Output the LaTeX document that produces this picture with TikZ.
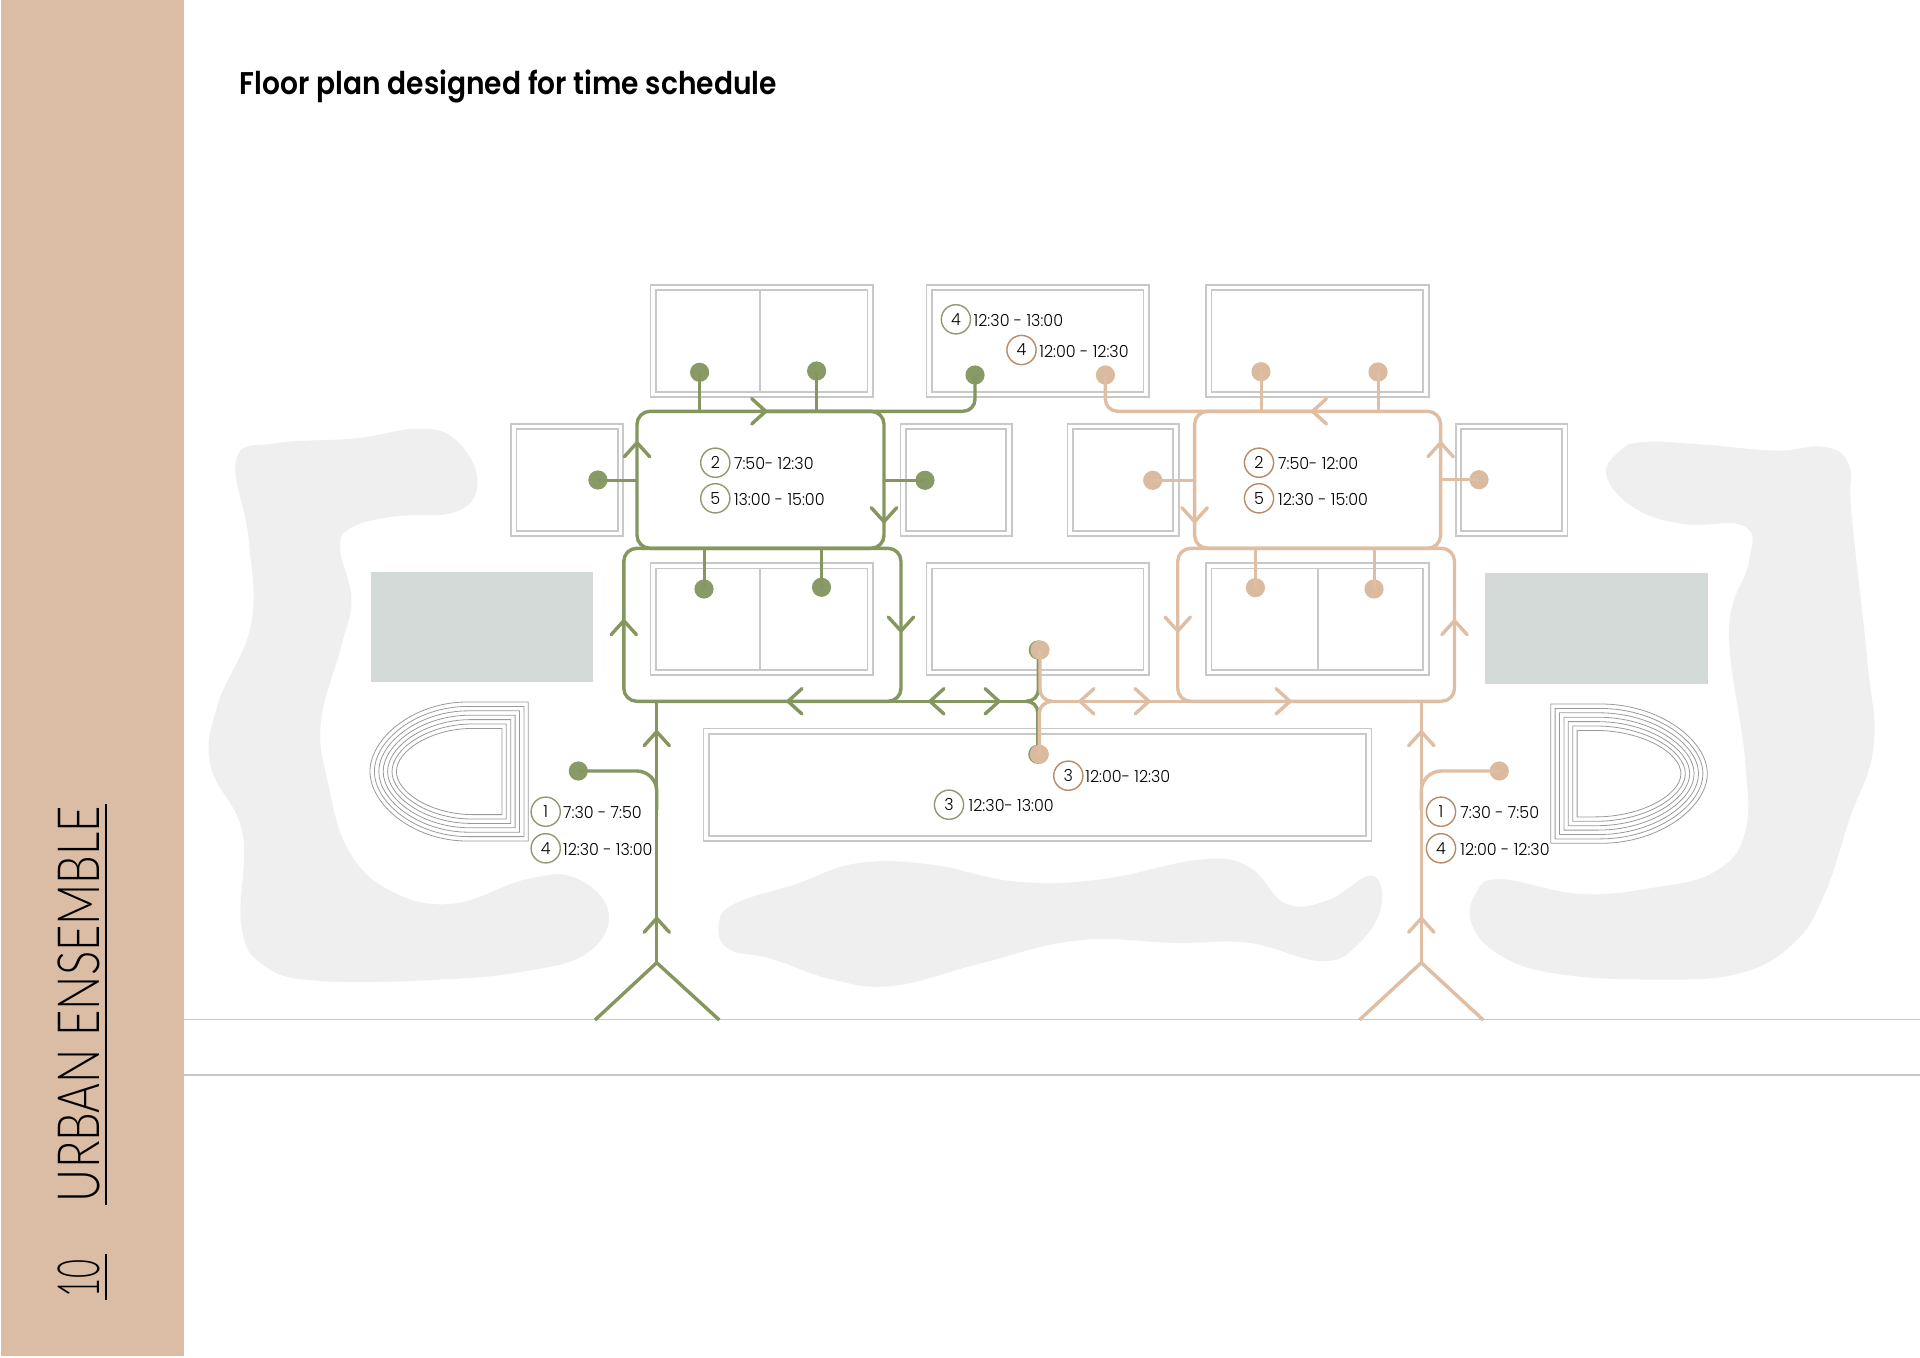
\documentclass[tikz,border=0pt]{standalone}
\usepackage{fontspec}
\usepackage{graphicx}
\usetikzlibrary{fit}
\newfontfamily\labfont[FakeStretch=0.96]{Poppins Light}
\newfontfamily\titlefont{Poppins SemiBold}
\newfontfamily\vertfont{Lato Light}
\definecolor{sidebar}{HTML}{DBBDA5}
\definecolor{gr}{HTML}{85965F}
\definecolor{tn}{HTML}{DFBEA3}
\definecolor{grfill}{HTML}{8A9A66}
\definecolor{tnfill}{HTML}{DBBB9F}
\definecolor{grring}{HTML}{8E9A73}
\definecolor{tnring}{HTML}{B98A66}
\definecolor{boxgrey}{HTML}{C8C8C8}
\definecolor{blob}{HTML}{EFEFEF}
\definecolor{pale}{HTML}{D3DAD7}
\definecolor{trackgrey}{HTML}{9A9A9A}
\tikzset{
  boxline/.style={draw=boxgrey,line width=0.9pt,inner sep=0pt,outer sep=0pt,rectangle},
  grline/.style={draw=gr,line width=1.7pt,line join=round},
  tnline/.style={draw=tn,line width=1.7pt,line join=round},
  grloop/.style={grline,rectangle,rounded corners=6.5pt,inner sep=0pt,outer sep=0pt},
  tnloop/.style={tnline,rectangle,rounded corners=6.5pt,inner sep=0pt,outer sep=0pt},
  grdot/.style={circle,fill=grfill,inner sep=0pt,minimum size=9.6pt},
  tndot/.style={circle,fill=tnfill,inner sep=0pt,minimum size=9.6pt},
  grring/.style={circle,draw=grring,line width=0.7pt,inner sep=0pt,minimum size=14.6pt,font=\labfont\fontsize{8.3}{10}\selectfont},
  tnring/.style={circle,draw=tnring,line width=0.7pt,inner sep=0pt,minimum size=14.6pt,font=\labfont\fontsize{8.3}{10}\selectfont},
  timetext/.style={anchor=west,inner sep=0pt,font=\labfont\fontsize{8.3}{10}\selectfont},
  track/.style={draw=trackgrey,line width=0.4pt},
}
\newcommand\dblbox[5]{%
  \node[boxline,fit={(#2,#3)(#4,#5)}] (#1) {};
  \draw[boxline] ([shift={(5.4,5.4)}]#1.north west) rectangle ([shift={(-5.4,-5.4)}]#1.south east);}
\newcommand\chev[4]{\draw[#1,line cap=round,shift={(#2,#3)},rotate=#4] (-14,-12.7) -- (0,0) -- (-14,12.7);}
\newcommand\timelab[7]{%
  \node[#4] (#1) at (#2,#3) {#5};
  \node[timetext] (#1t) at (#6,#3+1) {#7};}
% track: right-flat D pointing left; right x, top y, bottom y, tip x, start of curve x
\newcommand\ltrack[5]{%
  \pgfmathsetmacro\trR{#1}\pgfmathsetmacro\trT{#2}\pgfmathsetmacro\trB{#3}\pgfmathsetmacro\trL{#4}\pgfmathsetmacro\trS{#5}%
  \pgfmathsetmacro\trC{0.5*(\trT+\trB)}\pgfmathsetmacro\trH{0.24*(\trB-\trT)}\pgfmathsetmacro\trK{\trS-0.55*(\trS-\trL)}%
  \draw[track] (\trR,\trT) -- (\trS,\trT) .. controls (\trK,\trT) and (\trL,\trC-\trH) .. (\trL,\trC) .. controls (\trL,\trC+\trH) and (\trK,\trB) .. (\trS,\trB) -- (\trR,\trB) -- cycle;}
\begin{document}
\begin{tikzpicture}[x=0.5pt,y=-0.5pt]
\useasboundingbox (0,0) rectangle (1920,1358);
\fill[white] (0,0) rectangle (1920,1358);
% sidebar
\fill[sidebar] (1,0) rectangle (183.5,1356);
\draw[boxgrey,line width=0.8pt] (183.5,1019.5) -- (1920,1019.5);
\draw[boxgrey,line width=0.8pt] (183.5,1075) -- (1920,1075);
\node[rotate=90,inner sep=0pt] (side) at (79.2,1004) {\resizebox{198pt}{20.85pt}{\vertfont URBAN ENSEMBLE}};
\node[rotate=90,inner sep=0pt] (page) at (79.2,1278) {\resizebox{19pt}{20.85pt}{\vertfont 10}};
\draw[black,line width=1pt] (106,1205) -- (106,804);
\draw[black,line width=1pt] (106,1300) -- (106,1254);
% title
\node[anchor=base west,inner sep=0pt] (title) at (239.5,94.5) {\resizebox{268.5pt}{12.3pt}{\titlefont Floor plan designed for time schedule}};
% blobs
\begin{scope}[scale=1.2245]
\fill[blob] plot[smooth cycle,tension=0.7] coordinates {(193,375)(225,362)(290,358)(345,350)(375,362)(390,395)(372,418)(320,422)(285,432)(278,450)(287,490)(278,530)(262,590)(268,640)(285,695)(320,728)(370,738)(430,718)(470,717)(497,745)(480,778)(430,793)(360,800)(260,801)(215,788)(197,755)(198,680)(172,625)(178,575)(205,510)(203,440)};
\fill[blob] plot[smooth cycle,tension=0.7] coordinates {(587,755)(600,738)(650,722)(700,705)(760,706)(830,720)(900,718)(980,702)(1020,708)(1050,738)(1085,735)(1120,715)(1128,740)(1110,770)(1080,785)(1020,770)(960,770)(880,768)(800,787)(730,805)(680,800)(630,783)(595,775)};
\fill[blob] plot[smooth cycle,tension=0.7] coordinates {(1312,389)(1322,369)(1342,361)(1390,363)(1450,368)(1490,365)(1510,380)(1512,420)(1525,540)(1530,610)(1510,670)(1490,730)(1465,770)(1420,795)(1350,800)(1270,795)(1225,780)(1202,755)(1205,730)(1225,718)(1290,730)(1350,725)(1400,712)(1425,680)(1425,620)(1412,515)(1428,460)(1425,430)(1375,428)(1335,415)};
\end{scope}
% pale rectangles
\fill[pale] (371,571.7) rectangle (593.4,682.3);
\fill[pale] (1485.3,573.3) rectangle (1708,684.3);
% tracks
\foreach \i in {0,...,6}{
  \ltrack{528.3-4.4*\i}{702+4.4*\i}{841-4.4*\i}{370+4.4*\i}{467+1*\i}
  \begin{scope}[xshift=1039.5pt,xscale=-1]
    \ltrack{528.3-4.4*\i}{704+4.4*\i}{843.3-4.4*\i}{371.7+4.4*\i}{478+1*\i}
  \end{scope}
}
% boxes
\dblbox{ba}{650.5}{285}{872.9}{397.3}
\dblbox{bb}{926.4}{285}{1148.8}{397.3}
\dblbox{bc}{1206}{285}{1428.6}{397.3}
\dblbox{sa}{511}{423.7}{623}{536.3}
\dblbox{sb}{900.5}{423.7}{1011.7}{536.3}
\dblbox{sc}{1067.4}{423.7}{1178.6}{536.3}
\dblbox{sd}{1455.8}{423.7}{1567.4}{536.3}
\dblbox{ra}{650.5}{563}{872.9}{675.3}
\dblbox{rb}{926.4}{563}{1148.8}{675.3}
\dblbox{rc}{1206}{563}{1428.6}{675.3}
\dblbox{lb}{703.5}{728.5}{1371.5}{841.3}
\draw[boxline] (760,290.4) -- (760,392);
\draw[boxline] (760,568.4) -- (760,670);
\draw[boxline] (1318,568.4) -- (1318,670);
% loops
\node[grloop,fit={(637,411.3)(884,548.3)}] (gu) {};
\node[grloop,fit={(623.8,548.3)(901,701.3)}] (gl) {};
\node[tnloop,fit={(1194.6,411.3)(1440.6,548.3)}] (tu) {};
\node[tnloop,fit={(1177.7,548.3)(1454.5,701.3)}] (tl) {};
% green dots
\node[grdot] (g1) at (699.6,372.3) {};
\node[grdot] (g2) at (816.6,371) {};
\node[grdot] (g3) at (975,375) {};
\node[grdot] (g4) at (597.9,480) {};
\node[grdot] (g5) at (925,480.3) {};
\node[grdot] (g6) at (704,589) {};
\node[grdot] (g7) at (821.5,587.3) {};
\node[grdot] (g8) at (578.3,771) {};
\node[grdot] (g9) at (1038.3,650) {};
\node[grdot] (g10) at (1037.8,754.3) {};
% green connectors
\draw[grline,line width=1.5pt] (g1.center) -- (g1.center |- gu.north);
\draw[grline,line width=1.5pt] (g2.center) -- (g2.center |- gu.north);
\draw[grline,rounded corners=6pt] (g3.center) |- (gu.north);
\draw[grline,line width=1.5pt] (g4.center) -- (g4.center -| gu.west);
\draw[grline,line width=1.5pt] (g5.center) -- (g5.center -| gu.east);
\draw[grline,line width=1.5pt] (g6.center) -- (g6.center |- gl.north);
\draw[grline,line width=1.5pt] (g7.center) -- (g7.center |- gl.north);
\coordinate (gj) at (656.7,701.3);
\coordinate (gf) at (656.7,962.7);
\coordinate (gfa) at (595,1020);
\coordinate (gfb) at (719.3,1020);
\draw[grline] (gj) -- (gf);
\draw[grline] (gfa) -- (gf) -- (gfb);
\draw[grline,rounded corners=10pt] (g8.center) -| (656.7,810);
\coordinate (gx) at (1026,701.3);
\draw[grline] (gl.south) -- (gx);
\draw[grline] (gx) .. controls (1033,701.3) and (1038.3,697) .. (1038.3,689) -- (g9.center);
\draw[grline] (gx) .. controls (1033,701.3) and (1037.8,706) .. (1037.8,713) -- (g10.center);
\chev{grline}{765.7}{411.3}{0}
\chev{grline}{637}{442.7}{90}
\chev{grline}{884}{521.7}{-90}
\chev{grline}{901}{631}{-90}
\chev{grline}{623.8}{620.7}{90}
\chev{grline}{788}{701.3}{180}
\chev{grline}{930}{701.3}{180}
\chev{grline}{999}{701.3}{0}
\chev{grline}{656.7}{731.7}{90}
\chev{grline}{656.7}{918.3}{90}
% tan dots
\node[tndot] (t1) at (1261,371.7) {};
\node[tndot] (t2) at (1378,372) {};
\node[tndot] (t3) at (1105.4,375) {};
\node[tndot] (t4) at (1479,479.7) {};
\node[tndot] (t5) at (1152.7,480.3) {};
\node[tndot] (t6) at (1255.4,587.7) {};
\node[tndot] (t7) at (1374,589) {};
\node[tndot] (t8) at (1499.3,771) {};
\node[tndot] (t9) at (1040,650) {};
\node[tndot] (t10) at (1039.3,754.3) {};
% tan connectors
\draw[tnline,line width=1.5pt] (t1.center) -- (t1.center |- tu.north);
\draw[tnline,line width=1.5pt] (t2.center) -- (t2.center |- tu.north);
\draw[tnline,rounded corners=6pt] (t3.center) |- (tu.north);
\draw[tnline,line width=1.5pt] (t4.center) -- (t4.center -| tu.east);
\draw[tnline,line width=1.5pt] (t5.center) -- (t5.center -| tu.west);
\draw[tnline,line width=1.5pt] (t6.center) -- (t6.center |- tl.north);
\draw[tnline,line width=1.5pt] (t7.center) -- (t7.center |- tl.north);
\coordinate (tj) at (1421.3,701.3);
\coordinate (tf) at (1421.3,962.7);
\coordinate (tfa) at (1359.3,1020);
\coordinate (tfb) at (1483.3,1020);
\draw[tnline] (tj) -- (tf);
\draw[tnline] (tfa) -- (tf) -- (tfb);
\draw[tnline,rounded corners=10pt] (t8.center) -| (1421.3,810);
\coordinate (tx) at (1052,701.3);
\draw[tnline] (tl.south) -- (tx);
\draw[tnline] (tx) .. controls (1046,701.3) and (1040,697) .. (1040,689) -- (t9.center);
\draw[tnline] (tx) .. controls (1046,701.3) and (1039.3,706) .. (1039.3,713) -- (t10.center);
\chev{tnline}{1312.5}{411.3}{180}
\chev{tnline}{1194.6}{521.7}{-90}
\chev{tnline}{1440.6}{442.7}{90}
\chev{tnline}{1177.7}{631}{-90}
\chev{tnline}{1454.5}{620.7}{90}
\chev{tnline}{1080}{701.3}{180}
\chev{tnline}{1149}{701.3}{0}
\chev{tnline}{1290}{701.3}{0}
\chev{tnline}{1421.3}{731.7}{90}
\chev{tnline}{1421.3}{918.3}{90}
% labels
\timelab{la}{545.7}{811.7}{grring}{1}{562.7}{7:30 - 7:50}
\timelab{lb4}{545.7}{848.3}{grring}{4}{562.7}{12:30 - 13:00}
\timelab{lc}{1441}{811.7}{tnring}{1}{1460}{7:30 - 7:50}
\timelab{ld}{1441}{848.3}{tnring}{4}{1460}{12:00 - 12:30}
\timelab{le}{715.3}{462.7}{grring}{2}{733.6}{7:50- 12:30}
\timelab{lf}{715.3}{498.3}{grring}{5}{733.6}{13:00 - 15:00}
\timelab{lg}{1259}{462.7}{tnring}{2}{1277.7}{7:50- 12:00}
\timelab{lh}{1259}{498.3}{tnring}{5}{1277.7}{12:30 - 15:00}
\timelab{li}{955.9}{319.3}{grring}{4}{973.3}{12:30 - 13:00}
\timelab{lj}{1021.5}{350}{tnring}{4}{1039}{12:00 - 12:30}
\timelab{lk}{1068.3}{775.7}{tnring}{3}{1085}{12:00- 12:30}
\timelab{ll}{949}{804.7}{grring}{3}{968.3}{12:30- 13:00}
\end{tikzpicture}
\end{document}
